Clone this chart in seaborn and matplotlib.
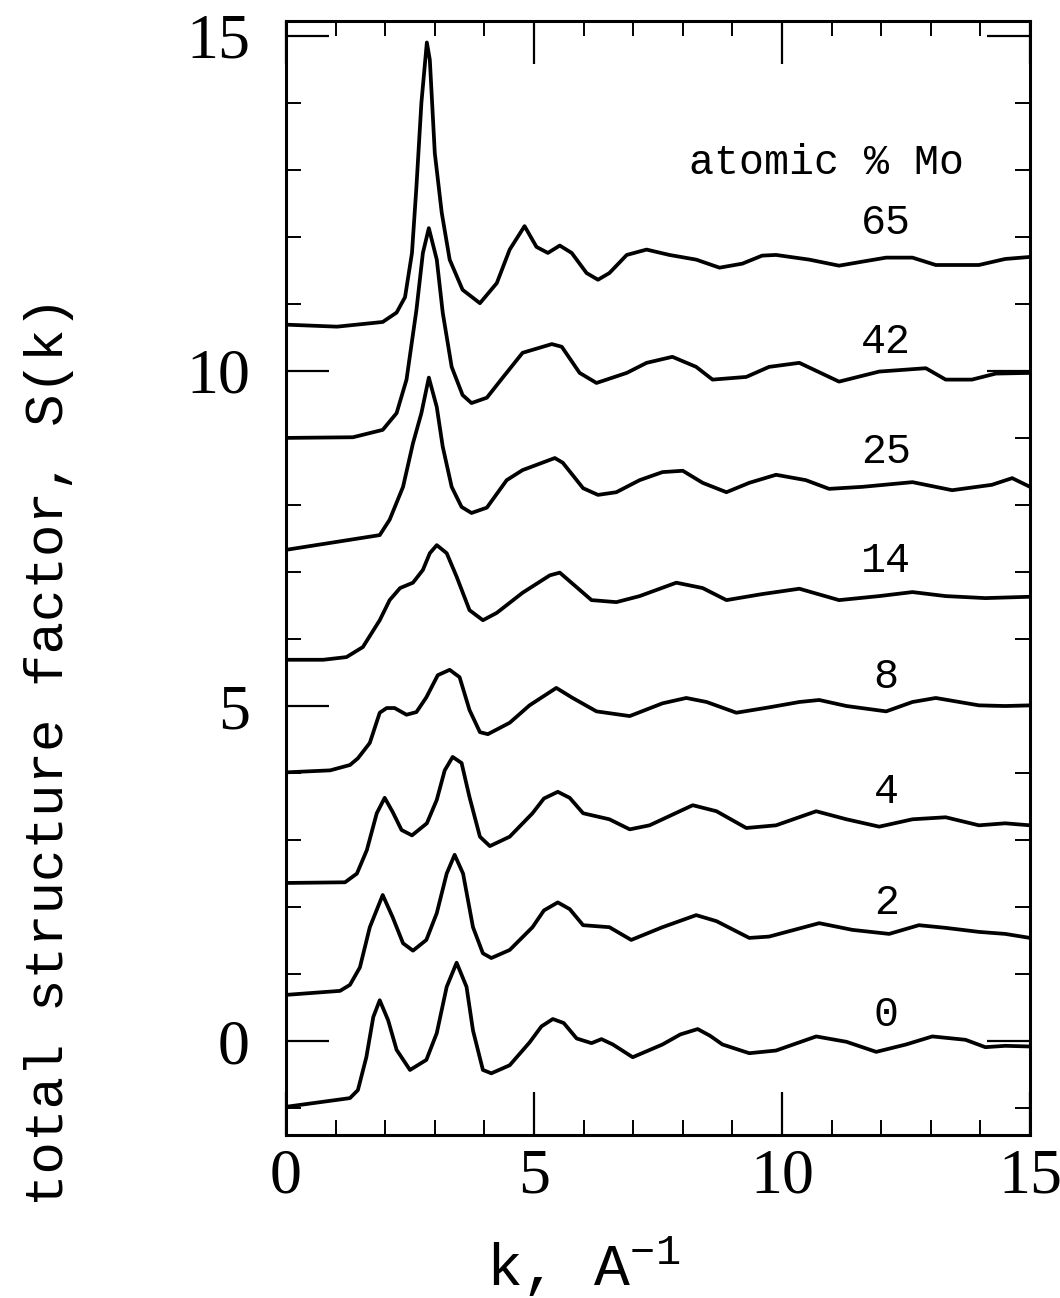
import numpy as np
import pandas as pd
import matplotlib
matplotlib.use('Agg')
import matplotlib.pyplot as plt
from matplotlib.ticker import MultipleLocator
import seaborn as sns

# S(k) curves, each already shifted vertically as drawn
k0 = [0, 1.29, 1.45, 1.62, 1.76, 1.89, 2.06, 2.23, 2.50, 2.83, 3.04, 3.24, 3.44, 3.64, 3.77, 3.97, 4.14, 4.51,
      4.91, 5.15, 5.38, 5.6, 5.86, 6.16, 6.36, 6.59, 6.99, 7.59, 7.95, 8.30, 8.55, 8.80, 9.34, 9.88, 10.69, 11.3,
      11.9, 12.5, 13.03, 13.7, 14.1, 14.5, 15.0]
s0 = [-0.98, -0.85, -0.73, -0.24, 0.36, 0.61, 0.31, -0.13, -0.43, -0.28, 0.12, 0.81, 1.17, 0.81, 0.16, -0.43,
      -0.48, -0.36, -0.02, 0.22, 0.33, 0.27, 0.04, -0.03, 0.03, -0.05, -0.24, -0.05, 0.10, 0.18, 0.08, -0.05,
      -0.18, -0.14, 0.07, -0.01, -0.16, -0.05, 0.07, 0.02, -0.09, -0.07, -0.08]

k2 = [0, 1.09, 1.29, 1.49, 1.69, 1.95, 2.15, 2.36, 2.56, 2.83, 3.04, 3.24, 3.40, 3.57, 3.77, 3.97, 4.14, 4.51,
      4.97, 5.2, 5.48, 5.72, 5.99, 6.52, 6.96, 7.59, 8.27, 8.68, 9.34, 9.74, 10.75, 11.42, 12.16, 12.76, 13.3,
      13.97, 14.5, 15.0]
s2 = [0.69, 0.75, 0.84, 1.10, 1.70, 2.18, 1.85, 1.46, 1.35, 1.51, 1.91, 2.50, 2.78, 2.50, 1.70, 1.31, 1.24, 1.36,
      1.70, 1.95, 2.07, 1.97, 1.73, 1.70, 1.51, 1.70, 1.88, 1.79, 1.54, 1.56, 1.76, 1.66, 1.60, 1.73, 1.69, 1.63,
      1.60, 1.54]

k4 = [0, 1.19, 1.43, 1.63, 1.83, 1.99, 2.15, 2.33, 2.54, 2.84, 3.04, 3.20, 3.36, 3.54, 3.70, 3.91, 4.11, 4.51,
      4.97, 5.2, 5.48, 5.72, 5.99, 6.52, 6.93, 7.33, 8.2, 8.68, 9.28, 9.88, 10.69, 11.3, 11.96, 12.63, 13.3, 13.97,
      14.5, 15.0]
s4 = [2.36, 2.37, 2.50, 2.85, 3.40, 3.63, 3.42, 3.15, 3.07, 3.25, 3.60, 4.04, 4.24, 4.15, 3.64, 3.05, 2.91, 3.05,
      3.40, 3.62, 3.72, 3.63, 3.40, 3.31, 3.16, 3.22, 3.52, 3.43, 3.18, 3.22, 3.43, 3.31, 3.20, 3.31, 3.34, 3.22,
      3.25, 3.22]

k8 = [0, 0.89, 1.29, 1.45, 1.69, 1.89, 2.03, 2.19, 2.43, 2.63, 2.83, 3.06, 3.30, 3.50, 3.70, 3.91, 4.07, 4.51,
      4.91, 5.45, 5.78, 6.26, 6.93, 7.59, 8.07, 8.48, 9.08, 9.74, 10.35, 10.75, 11.3, 12.1, 12.63, 13.1, 13.97,
      14.5, 15.0]
s8 = [4.01, 4.04, 4.12, 4.22, 4.45, 4.90, 4.97, 4.97, 4.87, 4.91, 5.13, 5.46, 5.54, 5.43, 4.94, 4.61, 4.58, 4.75,
      5.01, 5.27, 5.12, 4.92, 4.85, 5.04, 5.12, 5.06, 4.90, 4.98, 5.06, 5.09, 5.00, 4.92, 5.06, 5.12, 5.01, 5.00,
      5.01]

k14 = [0, 0.75, 1.22, 1.55, 1.89, 2.09, 2.30, 2.56, 2.76, 2.90, 3.04, 3.24, 3.44, 3.70, 3.97, 4.25, 4.77, 5.32,
       5.52, 6.16, 6.66, 7.13, 7.87, 8.4, 8.88, 9.6, 10.35, 11.15, 11.96, 12.63, 13.3, 14.1, 15.0]
s14 = [5.69, 5.69, 5.73, 5.88, 6.28, 6.58, 6.76, 6.84, 7.03, 7.28, 7.40, 7.28, 6.93, 6.43, 6.28, 6.39, 6.69, 6.95,
       6.99, 6.58, 6.55, 6.64, 6.84, 6.76, 6.58, 6.67, 6.75, 6.58, 6.64, 6.70, 6.64, 6.61, 6.63]

k25 = [0, 1.89, 2.09, 2.36, 2.56, 2.73, 2.88, 3.04, 3.16, 3.34, 3.54, 3.74, 4.05, 4.45, 4.77, 5.42, 5.58, 5.99,
       6.29, 6.66, 7.13, 7.59, 8.0, 8.4, 8.88, 9.34, 9.88, 10.48, 10.95, 11.62, 12.63, 13.43, 14.23, 14.64, 15.0]
s25 = [7.33, 7.55, 7.78, 8.27, 8.92, 9.37, 9.90, 9.46, 8.87, 8.27, 7.97, 7.88, 7.96, 8.37, 8.52, 8.70, 8.63, 8.25,
       8.15, 8.19, 8.37, 8.49, 8.51, 8.33, 8.19, 8.33, 8.45, 8.37, 8.24, 8.27, 8.34, 8.22, 8.30, 8.40, 8.27]

k42 = [0, 1.35, 1.95, 2.23, 2.43, 2.63, 2.76, 2.88, 3.04, 3.16, 3.34, 3.56, 3.74, 4.05, 4.37, 4.77, 5.36, 5.56,
       5.92, 6.26, 6.87, 7.27, 7.79, 8.27, 8.6, 9.28, 9.74, 10.35, 11.15, 11.96, 12.9, 13.3, 13.83, 14.31, 15.0]
s42 = [9.00, 9.01, 9.12, 9.37, 9.87, 10.91, 11.76, 12.13, 11.66, 10.87, 10.06, 9.64, 9.52, 9.60, 9.90, 10.27,
       10.40, 10.36, 9.97, 9.82, 9.97, 10.12, 10.21, 10.06, 9.87, 9.91, 10.06, 10.12, 9.84, 9.99, 10.04, 9.87,
       9.87, 9.96, 9.97]

k65 = [0, 1.03, 1.95, 2.23, 2.40, 2.54, 2.63, 2.73, 2.84, 2.90, 3.0, 3.14, 3.30, 3.56, 3.91, 4.25, 4.51, 4.81,
       5.05, 5.28, 5.52, 5.76, 6.06, 6.29, 6.52, 6.87, 7.27, 7.73, 8.27, 8.74, 9.2, 9.6, 9.88, 10.55, 11.15, 11.62,
       12.1, 12.63, 13.1, 13.97, 14.5, 15.0]
s65 = [10.69, 10.66, 10.73, 10.87, 11.10, 11.76, 12.75, 14.00, 14.90, 14.64, 13.25, 12.36, 11.66, 11.21, 11.01,
       11.31, 11.81, 12.16, 11.85, 11.76, 11.87, 11.76, 11.46, 11.36, 11.46, 11.73, 11.81, 11.73, 11.66, 11.54,
       11.60, 11.72, 11.73, 11.66, 11.57, 11.63, 11.69, 11.69, 11.58, 11.58, 11.67, 11.70]

compositions = ['0', '2', '4', '8', '14', '25', '42', '65']
label_y = [0.39, 2.06, 3.72, 5.43, 7.16, 8.79, 10.43, 12.20]
label_k = 12.1

curves = {'0': (k0, s0), '2': (k2, s2), '4': (k4, s4), '8': (k8, s8),
          '14': (k14, s14), '25': (k25, s25), '42': (k42, s42), '65': (k65, s65)}

frames = []
for mo in compositions:
    kk, ss = curves[mo]
    frames.append(pd.DataFrame({'k': kk, 'S': ss, 'mo': mo}))
df = pd.concat(frames, ignore_index=True)

sns.set_style('ticks')
plt.rcParams['font.family'] = ['Liberation Mono', 'DejaVu Sans']
plt.rcParams['mathtext.default'] = 'regular'
plt.rcParams['text.color'] = 'black'
plt.rcParams['axes.labelcolor'] = 'black'
plt.rcParams['xtick.color'] = 'black'
plt.rcParams['ytick.color'] = 'black'

fig = plt.figure(figsize=(10.6, 12.98), dpi=100)
ax = fig.add_axes([0.2698, 0.1256, 0.7019, 0.8582])

sns.lineplot(data=df, x='k', y='S', units='mo', estimator=None, sort=False,
             color='black', linewidth=2.7, ax=ax)

ax.set_xlim(0, 15)
ax.set_ylim(-1.40, 15.22)
ax.xaxis.set_major_locator(MultipleLocator(5))
ax.xaxis.set_minor_locator(MultipleLocator(1))
ax.yaxis.set_major_locator(MultipleLocator(5))
ax.yaxis.set_minor_locator(MultipleLocator(1))
ax.tick_params(which='both', direction='in', top=True, right=True,
               color='black', labelcolor='black')
ax.tick_params(which='major', length=31, width=1.6)
ax.tick_params(which='minor', length=11, width=1.4)
ax.tick_params(axis='x', which='major', pad=10)
ax.tick_params(axis='y', which='major', pad=26)
for spine in ax.spines.values():
    spine.set_linewidth(2.2)
    spine.set_color('black')

for lab in ax.get_xticklabels() + ax.get_yticklabels():
    lab.set_fontfamily('Liberation Serif')
    lab.set_fontsize(46)

ax.set_xlabel('k, A$^{-1}$', fontsize=43, color='black')
ax.xaxis.set_label_coords(0.40, -0.089)
ax.set_ylabel('total structure factor, S(k)', fontsize=39, color='black')
ax.yaxis.set_label_coords(-0.285, 0.345)

ax.text(10.9, 13.1, 'atomic % Mo', fontsize=30, ha='center', va='center', color='black')
for mo, yy in zip(compositions, label_y):
    ax.text(label_k, yy, mo, fontsize=30, ha='center', va='center', color='black')

fig.savefig('out.png', dpi=100, facecolor='white')
